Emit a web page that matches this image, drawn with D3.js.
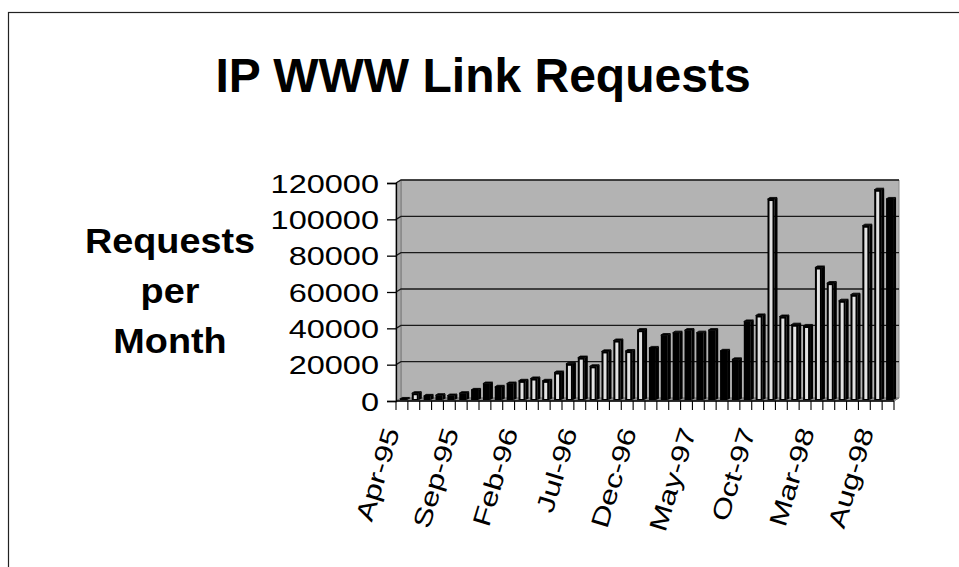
<!DOCTYPE html>
<html>
<head>
<meta charset="utf-8">
<script src="https://cdn.jsdelivr.net/npm/d3@7"></script>
<style>
  html, body { margin: 0; padding: 0; background: #fff; }
  svg { display: block; font-family: "Liberation Sans", Arial, sans-serif; }
</style>
</head>
<body>
<svg id="chart" width="959" height="567"></svg>
<script>
// ---- data ----
const categories = [
  "Apr-95","May-95","Jun-95","Jul-95","Aug-95","Sep-95","Oct-95","Nov-95","Dec-95",
  "Jan-96","Feb-96","Mar-96","Apr-96","May-96","Jun-96","Jul-96","Aug-96","Sep-96","Oct-96","Nov-96","Dec-96",
  "Jan-97","Feb-97","Mar-97","Apr-97","May-97","Jun-97","Jul-97","Aug-97","Sep-97","Oct-97","Nov-97","Dec-97",
  "Jan-98","Feb-98","Mar-98","Apr-98","May-98","Jun-98","Jul-98","Aug-98","Sep-98"
];
const requests = [
  800, 4000, 2500, 2900, 2700, 4000, 5800, 9300, 7500,
  9300, 10800, 12100, 10800, 15400, 20200, 23600, 18800, 27000, 33000, 27200, 38700,
  28900, 36000, 37300, 38700, 37300, 38700, 27300, 22600, 43500, 46800, 110900, 46200,
  41700, 41000, 73200, 64600, 54900, 58200, 96200, 116000, 110900
];
// how each column appears in the picture: solid dark or with a light face
const barLook = [
  "dark","light","dark","dark","dark","dark","dark","dark","dark",
  "dark","light","light","light","light","light","light","light","light","light","light","light",
  "dark","dark","dark","dark","dark","dark","dark","dark","dark","light","light","light",
  "light","light","light","light","light","light","light","light","dark"
];
const yTicks = [0, 20000, 40000, 60000, 80000, 100000, 120000];
const xTickLabels = categories.filter((d, i) => i % 5 === 0);
const title = "IP WWW Link Requests";
const yTitle = ["Requests", "per", "Month"];

// ---- drawing ----
const svg = d3.select("#chart");
svg.append("rect").attr("width", 959).attr("height", 567).attr("fill", "#fff");
// outer chart border (extends past the picture on the right/bottom)
svg.append("rect").attr("x", 8.5).attr("y", 12.5).attr("width", 1100).attr("height", 700)
  .attr("fill", "none").attr("stroke", "#222").attr("stroke-width", 1.2);

const x = d3.scaleBand().domain(categories).range([396, 894]).padding(0);
const y = d3.scaleLinear().domain([0, 120000]).range([401, 183]);
const DX = 5, DY = -3; // depth of walls
const x0 = x.range()[0], x1 = x.range()[1];
const yb = y(0), yt = y(120000);

// title
svg.append("text").attr("x", 483).attr("y", 92).attr("text-anchor", "middle")
  .attr("font-size", 48).attr("font-weight", "bold").text(title);

// y-axis title
const yt0 = svg.append("g");
yTitle.forEach((t, i) => {
  yt0.append("text")
    .attr("transform", `translate(170,${253 + i * 50}) scale(1.08,1)`)
    .attr("text-anchor", "middle").attr("font-size", 35).attr("font-weight", "bold").text(t);
});

// walls
const walls = svg.append("g");
walls.append("polygon") // back wall
  .attr("points", [[x0 + DX, yt + DY], [x1 + DX, yt + DY], [x1 + DX, yb + DY], [x0 + DX, yb + DY]].join(" "))
  .attr("fill", "#b3b3b3").attr("stroke", "#8a8a8a").attr("stroke-width", 1);
walls.append("polygon") // side wall
  .attr("points", [[x0, yt], [x0 + DX, yt + DY], [x0 + DX, yb + DY], [x0, yb]].join(" "))
  .attr("fill", "#a9a9a9").attr("stroke", "#7a7a7a").attr("stroke-width", 1);
walls.append("polygon") // floor
  .attr("points", [[x0, yb], [x1, yb], [x1 + DX, yb + DY], [x0 + DX, yb + DY]].join(" "))
  .attr("fill", "#8c8c8c").attr("stroke", "#7a7a7a").attr("stroke-width", 1);

// gridlines on side + back wall
walls.selectAll(".grid").data(yTicks.filter(d => d > 0)).join("polyline")
  .attr("class", "grid")
  .attr("points", d => [[x0, y(d)], [x0 + DX, y(d) + DY], [x1 + DX, y(d) + DY]].join(" "))
  .attr("fill", "none").attr("stroke", "#1a1a1a").attr("stroke-width", 1.3);

// bars
const bw = 7, cdx = 2.5, cdy = 1.6, sd = 3;
const bars = svg.append("g");
categories.forEach((c, i) => {
  const v = requests[i];
  const cx = x(c) + x.bandwidth() / 2;
  const left = cx - 2, right = left + bw;
  const top = y(v) - 0.5, bottom = yb - 1;
  const g = bars.append("g");
  // side face
  g.append("polygon").attr("points",
    [[right, top], [right + sd, top - cdy], [right + sd, bottom - cdy], [right, bottom]].join(" "))
    .attr("fill", "#000");
  // top face
  g.append("polygon").attr("points",
    [[left, top], [right, top], [right + cdx, top - cdy], [left + cdx, top - cdy]].join(" "))
    .attr("fill", "#000").attr("stroke", "#000").attr("stroke-width", 0.8).attr("stroke-linejoin", "round");
  // front face
  g.append("rect").attr("x", left).attr("y", top).attr("width", bw).attr("height", bottom - top)
    .attr("fill", "#000");
  if (barLook[i] === "light" && bottom - top > 4) {
    g.append("rect").attr("x", left + 2).attr("y", top + 2)
      .attr("width", bw - 4).attr("height", bottom - top - 3)
      .attr("fill", "#e2e2e2");
  }
});

// y axis
const yAxis = svg.append("g").attr("transform", `translate(${x0},0)`)
  .call(d3.axisLeft(y).tickValues(yTicks).tickSize(9).tickFormat(d3.format("d")));
yAxis.select(".domain").attr("stroke", "#000").attr("stroke-width", 1.3);
yAxis.selectAll(".tick line").attr("stroke", "#000").attr("stroke-width", 1.3);
yAxis.selectAll(".tick text")
  .attr("x", -17 / 1.3).attr("dy", "0.36em")
  .attr("transform", "scale(1.3,1)")
  .attr("font-size", 25).attr("font-family", "Liberation Sans, Arial, sans-serif").attr("fill", "#000");

// x axis line + boundary ticks
const xa = svg.append("g");
xa.append("line").attr("x1", x0).attr("x2", x1).attr("y1", yb).attr("y2", yb)
  .attr("stroke", "#000").attr("stroke-width", 1.3);
const bounds = categories.map(c => x(c)).concat([x1]);
xa.selectAll(".xt").data(bounds).join("line").attr("class", "xt")
  .attr("x1", d => d).attr("x2", d => d).attr("y1", yb).attr("y2", yb + 9)
  .attr("stroke", "#000").attr("stroke-width", 1.1);

// x labels
xa.selectAll(".xl").data(xTickLabels).join("text").attr("class", "xl")
  .attr("transform", d => `translate(${x(d) + x.bandwidth() / 2 - 2},431) rotate(-73) scale(1.28,1)`)
  .attr("text-anchor", "end").attr("font-size", 25).attr("fill", "#000").text(d => d);
</script>
</body>
</html>
